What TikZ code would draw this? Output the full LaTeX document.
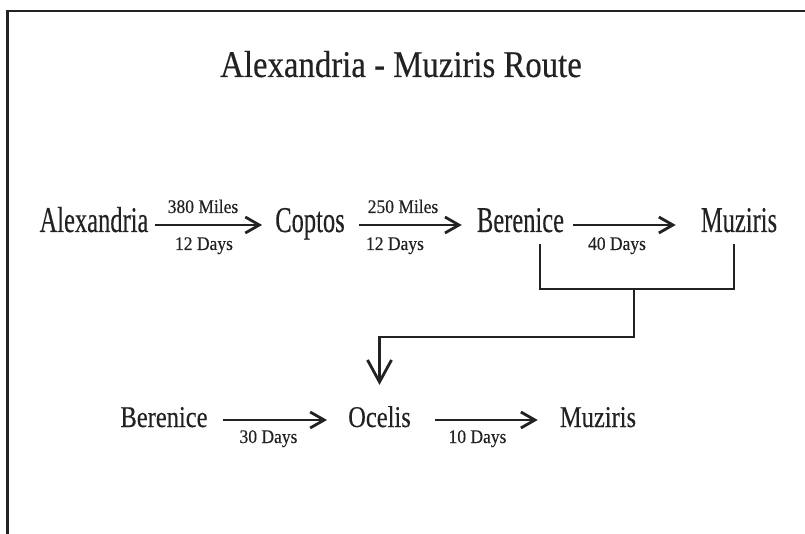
\documentclass[tikz,border=0pt]{standalone}
\usepackage{fontspec}
\usepackage{graphicx}
\setmainfont[FakeBold=0.35]{Liberation Serif}
\usetikzlibrary{arrows.meta,calc}
\definecolor{ink}{HTML}{222222}
\newcommand\vsTitle[1]{\scalebox{1}[1.15]{#1}}
\newcommand\vsRowA[1]{\scalebox{1}[1.48]{#1}}
\newcommand\vsRowB[1]{\scalebox{1}[1.23]{#1}}
\newcommand\vsSmall[1]{\scalebox{1}[1.1]{#1}}
\tikzset{
  titlebox/.style={inner sep=0pt, anchor=base, text=ink, font=\fontsize{32.8}{36}\selectfont},
  placebox/.style={inner sep=0pt, anchor=base, text=ink, font=\fontsize{24.5}{28}\selectfont},
  smallbox/.style={inner sep=0pt, anchor=base, text=ink, font=\fontsize{17.5}{20}\selectfont},
  frameline/.style={draw=ink, line width=2.5pt},
  conn/.style={draw=ink, line width=2.8pt},
  hconn/.style={conn, -{Straight Barb[length=14pt,width=16pt]}},
  vconn/.style={conn, -{Straight Barb[length=22pt,width=24pt]}},
}
\begin{document}
\begin{tikzpicture}[x=1pt,y=-1pt]
\useasboundingbox (0,0) rectangle (805,534);
% frame
\draw[frameline] (7.5,534) -- (7.5,11) -- (805,11);
% title
\node[titlebox] (title) at (401,77) {\vsTitle{Alexandria - Muziris Route}};
% row 1
\node[placebox] (alex) at (94,232) {\vsRowA{Alexandria}};
\node[placebox] (cop)  at (310,232) {\vsRowA{Coptos}};
\node[placebox] (ber1) at (520.5,232) {\vsRowA{Berenice}};
\node[placebox] (muz1) at (739,232) {\vsRowA{Muziris}};
% row 2
\node[placebox] (ber2) at (164,427) {\vsRowB{Berenice}};
\node[placebox] (oce)  at (379.5,427) {\vsRowB{Ocelis}};
\node[placebox] (muz2) at (598,427) {\vsRowB{Muziris}};
% arrow levels
\coordinate (r1) at (0,225);
\coordinate (r2) at (0,420);
% row 1 arrows
\draw[hconn] ([xshift=6pt]alex.east |- r1) -- ([xshift=-13pt]cop.west |- r1);
\draw[hconn] ([xshift=14pt]cop.east |- r1) -- ([xshift=-15pt]ber1.west |- r1);
\draw[hconn] ([xshift=9pt]ber1.east |- r1) -- ([xshift=-25pt]muz1.west |- r1);
% row 2 arrows
\draw[hconn] ([xshift=15pt]ber2.east |- r2) -- ([xshift=-21pt]oce.west |- r2);
\draw[hconn] ([xshift=24pt]oce.east |- r2) -- ([xshift=-22pt]muz2.west |- r2);
% labels
\node[smallbox] (l1a) at (203,213) {\vsSmall{380 Miles}};
\node[smallbox] (l1b) at (204,250) {\vsSmall{12 Days}};
\node[smallbox] (l2a) at (403,213) {\vsSmall{250 Miles}};
\node[smallbox] (l2b) at (395,250) {\vsSmall{12 Days}};
\node[smallbox] (l3b) at (617,250) {\vsSmall{40 Days}};
\node[smallbox] (l4b) at (268.5,443) {\vsSmall{30 Days}};
\node[smallbox] (l5b) at (477.5,443) {\vsSmall{10 Days}};
% bracket
\coordinate (bL) at ($(ber1.base)+(19.5,12)$);
\coordinate (bR) at ($(muz1.base)+(-5,12)$);
\coordinate (bj) at (634,289);
\coordinate (bk) at (634,337);
\draw[conn] (bL) -- (bL |- bj) -- (bR |- bj) -- (bR);
\draw[vconn, shorten >=21pt] (bj) -- (bk) -| (oce.north);
\end{tikzpicture}
\end{document}
